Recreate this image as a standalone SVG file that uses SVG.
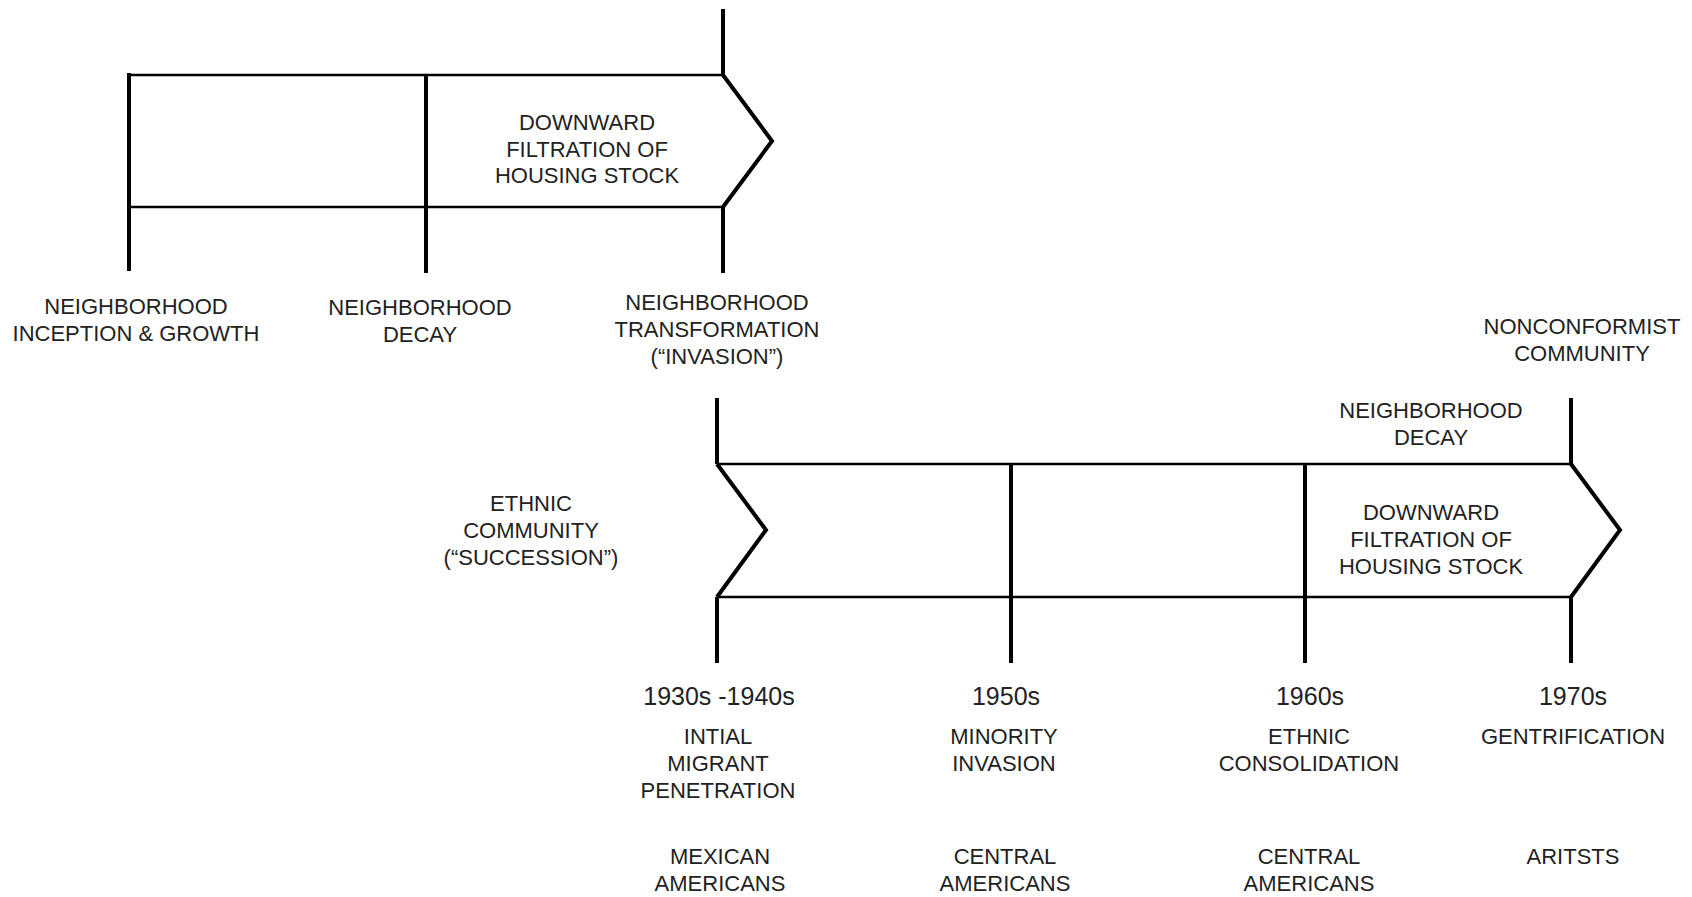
<svg xmlns="http://www.w3.org/2000/svg" width="1692" height="897" viewBox="0 0 1692 897">
<style>
.v{stroke:#000;stroke-width:4;fill:none}
.h{stroke:#000;stroke-width:2.5;fill:none}
.c{stroke:#000;stroke-width:4;fill:none;stroke-linejoin:miter}
text{font-family:"Liberation Sans",Arial,sans-serif;font-size:22px;fill:#222;text-anchor:middle}
.yr{font-size:25px}
</style>
<rect width="1692" height="897" fill="#fff"/>
<g id="connectors">
<!-- top timeline -->
<line class="h" x1="129" y1="75" x2="723" y2="75"/>
<line class="h" x1="129" y1="207" x2="723" y2="207"/>
<line class="v" x1="129" y1="73" x2="129" y2="271"/>
<line class="v" x1="426" y1="75" x2="426" y2="273"/>
<line class="v" x1="723" y1="9" x2="723" y2="75"/>
<polyline class="c" points="723,75 772,141 723,207"/>
<line class="v" x1="723" y1="207" x2="723" y2="273"/>
<!-- bottom timeline -->
<line class="h" x1="717" y1="464" x2="1571" y2="464"/>
<line class="h" x1="717" y1="597" x2="1571" y2="597"/>
<line class="v" x1="717" y1="398" x2="717" y2="464"/>
<polyline class="c" points="717,464 766,530 717,597"/>
<line class="v" x1="717" y1="597" x2="717" y2="663"/>
<line class="v" x1="1011" y1="464" x2="1011" y2="663"/>
<line class="v" x1="1305" y1="464" x2="1305" y2="663"/>
<line class="v" x1="1571" y1="398" x2="1571" y2="464"/>
<polyline class="c" points="1571,464 1620,530 1571,597"/>
<line class="v" x1="1571" y1="597" x2="1571" y2="663"/>
</g>
<g id="top-filtration"><text x="587" y="130">DOWNWARD</text><text x="587" y="157">FILTRATION OF</text><text x="587" y="183">HOUSING STOCK</text></g>
<g id="inception"><text x="136" y="314">NEIGHBORHOOD</text><text x="136" y="341">INCEPTION &amp; GROWTH</text></g>
<g id="decay"><text x="420" y="315">NEIGHBORHOOD</text><text x="420" y="342">DECAY</text></g>
<g id="transformation"><text x="717" y="310">NEIGHBORHOOD</text><text x="717" y="337">TRANSFORMATION</text><text x="717" y="364">(“INVASION”)</text></g>
<g id="nonconformist"><text x="1582" y="334">NONCONFORMIST</text><text x="1582" y="361">COMMUNITY</text></g>
<g id="decay2"><text x="1431" y="418">NEIGHBORHOOD</text><text x="1431" y="445">DECAY</text></g>
<g id="ethnic-community"><text x="531" y="511">ETHNIC</text><text x="531" y="538">COMMUNITY</text><text x="531" y="565">(“SUCCESSION”)</text></g>
<g id="bottom-filtration"><text x="1431" y="520">DOWNWARD</text><text x="1431" y="547">FILTRATION OF</text><text x="1431" y="574">HOUSING STOCK</text></g>
<g id="p1930"><text class="yr" x="719" y="705">1930s -1940s</text><text x="718" y="744">INTIAL</text><text x="718" y="771">MIGRANT</text><text x="718" y="798">PENETRATION</text><text x="720" y="864">MEXICAN</text><text x="720" y="891">AMERICANS</text></g>
<g id="p1950"><text class="yr" x="1006" y="705">1950s</text><text x="1004" y="744">MINORITY</text><text x="1004" y="771">INVASION</text><text x="1005" y="864">CENTRAL</text><text x="1005" y="891">AMERICANS</text></g>
<g id="p1960"><text class="yr" x="1310" y="705">1960s</text><text x="1309" y="744">ETHNIC</text><text x="1309" y="771">CONSOLIDATION</text><text x="1309" y="864">CENTRAL</text><text x="1309" y="891">AMERICANS</text></g>
<g id="p1970"><text class="yr" x="1573" y="705">1970s</text><text x="1573" y="744">GENTRIFICATION</text><text x="1573" y="864">ARITSTS</text></g>
</svg>
